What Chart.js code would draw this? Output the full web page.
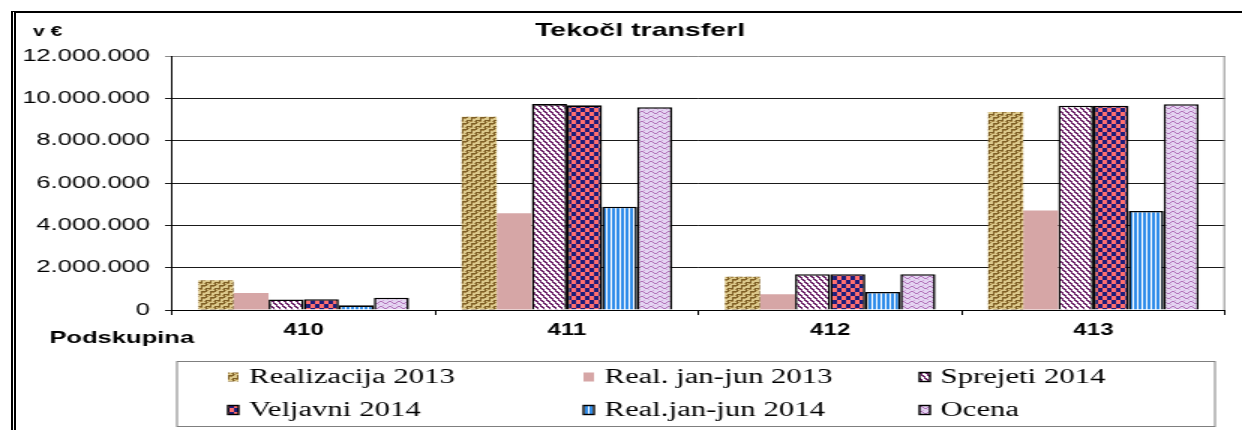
<!DOCTYPE html>
<html>
<head>
<meta charset="utf-8">
<script src="https://cdn.jsdelivr.net/npm/chart.js@4"></script>
<style>
  body { margin: 0; background: #fff; }
  #wrap { position: absolute; left: 0; top: 0; width: 828px; height: 430px; transform: scaleX(1.5); transform-origin: 0 0; }
  #frame { position: absolute; left: 11px; top: 11px; width: 1240px; height: 425px; border-top: 2px solid #000; border-left: 5px double #000; pointer-events: none; }
</style>
</head>
<body>
<div id="wrap"><canvas id="chart"></canvas></div>
<div id="frame"></div>
<script>
let categories = ['410', '411', '412', '413'];
let realizacija2013 = [1400000, 9130000, 1570000, 9350000];
let realJanJun2013 = [800000, 4570000, 740000, 4700000];
let sprejeti2014 = [500000, 9730000, 1690000, 9650000];
let veljavni2014 = [510000, 9670000, 1690000, 9650000];
let realJanJun2014 = [220000, 4880000, 850000, 4680000];
let ocena = [580000, 9580000, 1690000, 9720000];

let yTicks = [0, 2000000, 4000000, 6000000, 8000000, 10000000, 12000000];

let fontFamily = "'Liberation Sans', Arial, sans-serif";
Chart.defaults.font.family = fontFamily;
Chart.defaults.color = '#000';

// small repeating tiles for the excel-style fills
makePattern = (w, h, paint) => {
    let c = document.createElement('canvas');
    c.width = w;
    c.height = h;
    let g = c.getContext('2d');
    paint(g);
    return g.createPattern(c, 'repeat');
}

let weave = makePattern(6, 6, g => {
    g.fillStyle = '#dcc98c';
    g.fillRect(0, 0, 6, 6);
    g.fillStyle = '#7e5f26';
    g.fillRect(0, 0, 3, 1);
    g.fillRect(5, 0, 1, 3);
    g.fillRect(3, 3, 3, 1);
    g.fillRect(2, 3, 1, 3);
    g.fillStyle = '#a88848';
    g.fillRect(1, 1, 2, 1);
    g.fillRect(3, 4, 2, 1);
    g.fillRect(0, 2, 1, 1);
    g.fillRect(4, 1, 1, 1);
});

let diagonal = makePattern(4, 6, g => {
    for (let x = 0; x < 4; x++) {
        for (let y = 0; y < 6; y++) {
            let v = ((x * 1.5 - y) % 6 + 6) % 6;
            g.fillStyle = v < 2.5 ? '#6a1f66' : '#ffffff';
            g.fillRect(x, y, 1, 1);
        }
    }
});

let checker = makePattern(6, 8, g => {
    g.fillStyle = '#ff6f6f';
    g.fillRect(0, 0, 6, 8);
    g.fillStyle = '#1c1c7a';
    g.fillRect(0, 0, 3, 4);
    g.fillRect(3, 4, 3, 4);
});

let vstripes = makePattern(3, 2, g => {
    g.fillStyle = '#ffffff';
    g.fillRect(0, 0, 3, 2);
    g.fillStyle = '#2f8cea';
    g.fillRect(0, 0, 2, 2);
});

let wave = makePattern(6, 5, g => {
    g.fillStyle = '#e4d4f2';
    g.fillRect(0, 0, 6, 5);
    g.fillStyle = '#b070b8';
    [[0, 2], [1, 1], [2, 1], [3, 2], [4, 3], [5, 3]].forEach(p => g.fillRect(p[0], p[1], 1, 1));
    g.fillStyle = '#d0a8d8';
    [[0, 4], [3, 0]].forEach(p => g.fillRect(p[0], p[1], 1, 1));
});

let barDataset = (label, data, fill, bordered) => {
    return {
        label: label,
        data: data,
        backgroundColor: fill,
        borderColor: '#000',
        borderWidth: bordered ? 1.6 : 0,
        bordered: bordered,
        categoryPercentage: 0.8,
        barPercentage: 1.0
    }
}

formatThousands = v => String(v).replace(/\B(?=(\d{3})+(?!\d))/g, '.');

let extras = {
    id: 'extras',
    afterLayout: (chart) => {
        // excel centres the title a bit right of the page centre
        chart.titleBlock.left = 36.7;
    },
    afterDraw: (chart) => {
        let ctx = chart.ctx;
        let a = chart.chartArea;
        ctx.save();

        // grey frame of the plot on the right
        ctx.strokeStyle = '#8a8a8a';
        ctx.lineWidth = 1;
        ctx.beginPath();
        ctx.moveTo(a.right - 0.5, a.top);
        ctx.lineTo(a.right - 0.5, a.bottom);
        ctx.stroke();

        ctx.fillStyle = '#000';
        ctx.textBaseline = 'middle';
        ctx.textAlign = 'left';
        ctx.font = 'bold 14px ' + fontFamily;
        ctx.fillText('v €', 22, 32);
        ctx.font = 'bold 17px ' + fontFamily;
        ctx.fillText('Podskupina', 33, 338);

        // legend box, 3 columns x 2 rows
        ctx.strokeStyle = '#7f7f7f';
        ctx.strokeRect(118, 361.5, 692, 65);
        let colX = [152, 389, 613];
        let rowY = [377, 410];
        ctx.font = "20.5px 'Liberation Serif', 'Times New Roman', serif";
        chart.data.datasets.forEach((ds, i) => {
            let x = colX[i % 3];
            let y = rowY[Math.floor(i / 3)];
            ctx.fillStyle = ds.backgroundColor;
            ctx.fillRect(x, y - 4.5, 7, 9);
            if (ds.bordered) {
                ctx.strokeStyle = '#000';
                ctx.lineWidth = 1.4;
                ctx.strokeRect(x, y - 4.5, 7, 9);
            }
            ctx.fillStyle = '#000';
            ctx.fillText(ds.label, x + 14, y + 1);
        });
        ctx.restore();
    }
};

let chartCfg = {
    type: 'bar',
    data: {
        labels: categories,
        datasets: [
            barDataset('Realizacija 2013', realizacija2013, weave, false),
            barDataset('Real. jan-jun 2013', realJanJun2013, '#d6a6a6', false),
            barDataset('Sprejeti 2014', sprejeti2014, diagonal, true),
            barDataset('Veljavni 2014', veljavni2014, checker, true),
            barDataset('Real.jan-jun 2014', realJanJun2014, vstripes, true),
            barDataset('Ocena', ocena, wave, true)
        ]
    },
    options: {
        responsive: true,
        maintainAspectRatio: false,
        animation: false,
        layout: {
            padding: { left: 0, right: 11.3, top: 0, bottom: 0 }
        },
        plugins: {
            legend: { display: false },
            tooltip: { enabled: false },
            title: {
                display: true,
                text: 'Tekočl transferl',
                color: '#000',
                font: { size: 19, weight: 'bold' },
                padding: { top: 19, bottom: 14.2 }
            }
        },
        scales: {
            x: {
                offset: true,
                grid: { offset: true, drawOnChartArea: false, drawTicks: true, tickLength: 5, color: '#000' },
                border: { color: '#000', width: 1 },
                ticks: { color: '#000', font: { size: 16, weight: 'bold' }, padding: 6 },
                afterFit: (s) => { s.height = 120; }
            },
            y: {
                min: 0,
                max: 12000000,
                afterBuildTicks: (s) => { s.ticks = yTicks.map(v => ({ value: v })); },
                ticks: {
                    callback: formatThousands,
                    color: '#000',
                    font: { size: 17 },
                    padding: 10
                },
                grid: {
                    color: (c) => (c.tick && c.tick.value === 12000000) ? '#8a8a8a' : '#1a1a1a',
                    tickLength: 4.7
                },
                border: { color: '#000', width: 1 },
                afterFit: (s) => { s.width = 114.7; }
            }
        }
    },
    plugins: [extras]
};

let chart = new Chart(document.getElementById('chart'), chartCfg);
</script>
</body>
</html>
